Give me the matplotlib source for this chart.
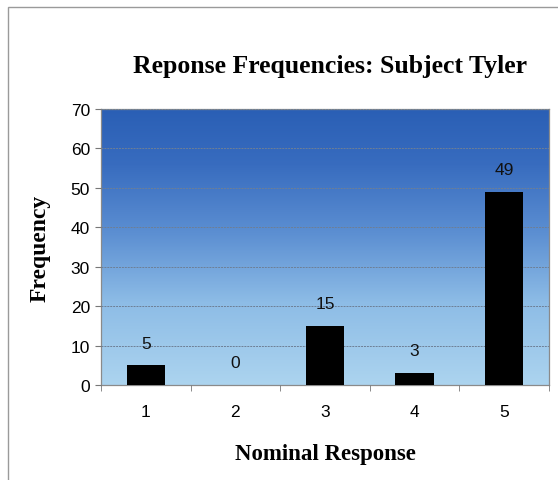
import matplotlib
matplotlib.use("Agg")
import matplotlib.pyplot as plt
import numpy as np
from matplotlib.colors import LinearSegmentedColormap
from matplotlib.patches import Rectangle

responses = ["1", "2", "3", "4", "5"]
counts = [5, 0, 15, 3, 49]

fig = plt.figure(figsize=(5.58, 4.81), dpi=100)
fig.patch.set_facecolor("white")

# outer frame around the chart object
fig.patches.append(Rectangle((8 / 558, -0.05), 1.0, (481 - 8) / 481 + 0.05,
                             transform=fig.transFigure, fill=False,
                             edgecolor="#9a9a9a", linewidth=1.0))

ax = fig.add_axes([101 / 558, (481 - 386) / 481, 448 / 558, 276 / 481])
x = np.arange(len(responses))

# blue gradient plot area
grad = LinearSegmentedColormap.from_list(
    "bg", [(0.0, "#acd4ef"), (0.3, "#8dbce6"), (0.55, "#5c8fd2"),
           (0.8, "#386cbf"), (1.0, "#2a5fb5")])
ax.imshow(np.linspace(0, 1, 256).reshape(-1, 1), cmap=grad, aspect="auto",
          origin="lower", extent=(-0.5, 4.5, 0, 70), zorder=0)

ax.bar(x, counts, width=0.43, color="black", zorder=3)
for xi, c in zip(x, counts):
    ax.annotate(str(c), (xi, c), xytext=(0, 16), textcoords="offset points",
                ha="center", va="center", fontsize=12.5,
                fontfamily="Liberation Sans", color="#111111", zorder=4)

ax.set_xlim(-0.5, 4.5)
ax.set_ylim(0, 70)
ax.set_yticks(range(0, 71, 10))
ax.yaxis.grid(True, color="#6e7f95", linewidth=0.7, linestyle=(0, (2, 1)), zorder=1)
ax.set_axisbelow(False)

ax.set_xticks(x)
ax.set_xticklabels(responses)
ax.set_xticks(np.arange(-0.5, 5, 1), minor=True)
ax.tick_params(axis="x", which="major", length=0, pad=14)
ax.tick_params(axis="x", which="minor", length=4, color="#777777")
ax.tick_params(axis="y", length=4, color="#777777", pad=4)
for lbl in ax.get_xticklabels() + ax.get_yticklabels():
    lbl.set_fontfamily("Liberation Sans")
    lbl.set_fontsize(12.5)

for side in ax.spines.values():
    side.set_color("#8a8a8a")
    side.set_linewidth(0.9)

ax.set_xlabel("Nominal Response", fontfamily="Liberation Serif",
              fontweight="bold", fontsize=16.5, labelpad=17)
ax.set_ylabel("Frequency", fontfamily="Liberation Serif",
              fontweight="bold", fontsize=17, labelpad=14)

fig.text(330 / 558, 1 - 67 / 481, "Reponse Frequencies: Subject Tyler",
         ha="center", va="center", fontfamily="Liberation Serif",
         fontweight="bold", fontsize=18.5)

fig.savefig("out.png", dpi=100)
